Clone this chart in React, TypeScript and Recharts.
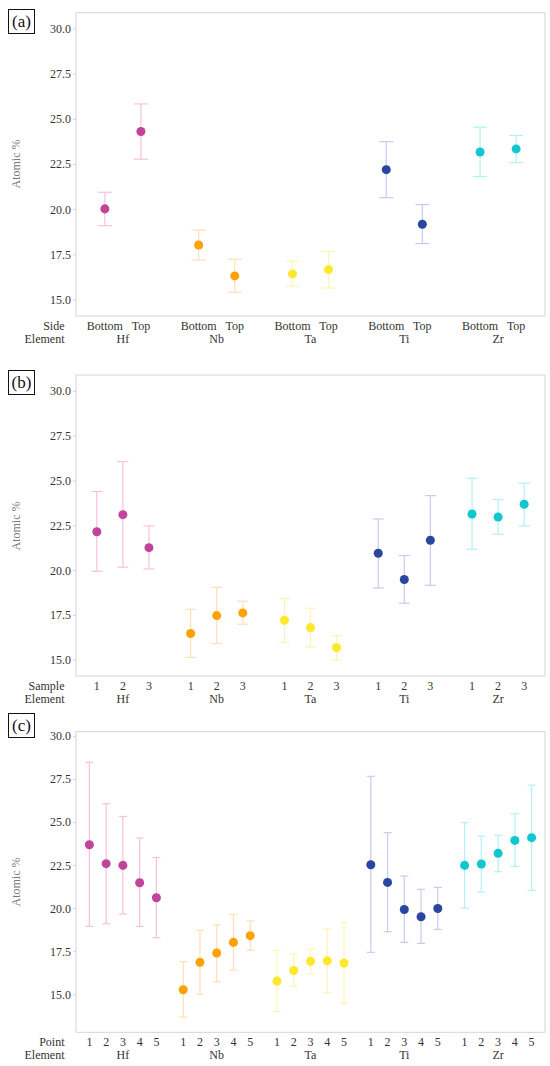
import React from 'react';
import { ScatterChart, Scatter, XAxis, YAxis, ZAxis, ErrorBar, ReferenceArea } from 'recharts';

const elements = ['Hf', 'Nb', 'Ta', 'Ti', 'Zr'];
const pointColors = ['#C1449B', '#FFA200', '#FFE82B', '#2A46A0', '#10C6CF'];
const barColors = ['#F8C0E0', '#FFE0B4', '#FFF4B4', '#C6CDEC', '#B4F0F3'];
const yTicks = [15, 17.5, 20, 22.5, 25, 27.5, 30];

// (a) by side
const sideLabels = ['Bottom', 'Top'];
const sideMean = [[20.04, 24.32], [18.04, 16.33], [16.44, 16.68], [22.21, 19.19], [23.19, 23.36]];
const sideLow = [[19.11, 22.79], [17.21, 15.42], [15.77, 15.66], [20.66, 18.12], [21.83, 22.6]];
const sideHigh = [[20.96, 25.85], [18.87, 17.25], [17.14, 17.68], [23.76, 20.28], [24.56, 24.11]];

// (b) by sample
const sampleLabels = ['1', '2', '3'];
const sampleMean = [[22.17, 23.12, 21.28], [16.49, 17.49, 17.64], [17.23, 16.82, 15.71], [20.97, 19.5, 21.69], [23.16, 22.99, 23.7]];
const sampleLow = [[19.96, 20.19, 20.09], [15.15, 15.93, 17.01], [16.0, 15.74, 15.0], [19.03, 18.18, 19.18], [21.19, 22.03, 22.49]];
const sampleHigh = [[24.41, 26.08, 22.49], [17.84, 19.07, 18.29], [18.44, 17.9, 16.38], [22.88, 20.84, 24.18], [25.15, 23.96, 24.87]];

// (c) by point
const pointLabels = ['1', '2', '3', '4', '5'];
const pointMean = [[23.71, 22.61, 22.51, 21.5, 20.63], [15.29, 16.88, 17.42, 18.04, 18.43], [15.79, 16.41, 16.94, 16.97, 16.84], [22.55, 21.52, 19.95, 19.53, 20.01], [22.51, 22.59, 23.21, 23.96, 24.12]];
const pointLow = [[18.97, 19.12, 19.68, 18.97, 18.31], [13.7, 15.04, 15.75, 16.43, 17.59], [14.03, 15.48, 16.22, 15.12, 14.5], [17.46, 18.66, 18.04, 17.98, 18.79], [20.03, 20.96, 22.14, 22.45, 21.06]];
const pointHigh = [[28.49, 26.09, 25.35, 24.1, 22.97], [16.92, 18.74, 19.06, 19.66, 19.28], [17.57, 17.36, 17.65, 18.83, 19.2], [27.68, 24.41, 21.89, 21.12, 21.23], [24.99, 24.21, 24.25, 25.51, 27.17]];

const FONT = "'Liberation Serif', 'DejaVu Serif', serif";
const GAP = 0.6;
const textStyle = { fontFamily: FONT, fontSize: 12 };

type PanelProps = {
  rowTitle: string;
  subLabels: string[];
  mean: number[][];
  low: number[][];
  high: number[][];
  top: number;
  height: number;
  marginTop: number;
  xAxisHeight: number;
  yDomain: [number, number];
  capWidth: number;
};

function Panel({ rowTitle, subLabels, mean, low, high, top, height, marginTop, xAxisHeight, yDomain, capWidth }: PanelProps) {
  const n = subLabels.length;
  const stride = n + GAP;
  const xMin = -0.8;
  const xMax = (elements.length - 1) * stride + n - 1 + 0.8;

  const series = elements.map((el, g) =>
    mean[g].map((m, i) => ({
      x: g * stride + i,
      y: m,
      err: [m - low[g][i], high[g][i] - m],
      sub: subLabels[i],
    }))
  );
  const centers = elements.map((el, g) => g * stride + (n - 1) / 2);
  const tickSet = Array.from(new Set([...series.flat().map((d) => d.x), ...centers])).sort((a, b) => a - b);

  const renderTick = (props: any) => {
    const { x, y, payload, index } = props;
    const v = payload.value;
    const pt = series.flat().find((d) => Math.abs(d.x - v) < 1e-6);
    const gi = centers.findIndex((c) => Math.abs(c - v) < 1e-6);
    return (
      <g>
        {index === 0 && (
          <>
            <text x={64.5} y={y + 14} textAnchor="end" fill="#333" style={textStyle}>{rowTitle}</text>
            <text x={64.5} y={y + 26.5} textAnchor="end" fill="#333" style={textStyle}>Element</text>
          </>
        )}
        {pt && (
          <text x={x} y={y + 14} textAnchor="middle" fill="#333" style={textStyle}>{pt.sub}</text>
        )}
        {gi >= 0 && (
          <text x={x} y={y + 26.5} textAnchor="middle" fill="#333" style={textStyle}>{elements[gi]}</text>
        )}
      </g>
    );
  };

  const renderYTick = (props: any) => {
    const { x, y, payload } = props;
    return (
      <text x={x} y={y + 4} textAnchor="end" fill="#333" style={textStyle}>{Number(payload.value).toFixed(1)}</text>
    );
  };

  const plotTop = top + marginTop;
  const plotBottom = top + height - xAxisHeight;

  return (
    <div style={{ position: 'absolute', left: 0, top, width: 550, height, fontFamily: FONT }}>
      <ScatterChart width={550} height={height} margin={{ top: marginTop, right: 5, bottom: 0, left: 0 }}>
        <XAxis
          type="number"
          dataKey="x"
          domain={[xMin, xMax]}
          allowDataOverflow
          ticks={tickSet}
          interval={0}
          tick={renderTick}
          tickLine={false}
          tickSize={0}
          tickMargin={0}
          axisLine={false}
          height={xAxisHeight}
        />
        <YAxis
          type="number"
          dataKey="y"
          domain={yDomain}
          allowDataOverflow
          ticks={yTicks}
          interval={0}
          width={76}
          tick={renderYTick}
          tickSize={3}
          tickMargin={2}
          tickLine={{ stroke: '#d4d4d4' }}
          axisLine={false}
        />
        <ZAxis range={[70, 70]} />
        <ReferenceArea x1={xMin} x2={xMax} y1={yDomain[0]} y2={yDomain[1]} fill="none" stroke="#d4d4d4" strokeWidth={1} />
        {series.map((data, g) => (
          <Scatter key={elements[g]} data={data} fill={pointColors[g]} isAnimationActive={false}>
            <ErrorBar dataKey="err" direction="y" width={capWidth} stroke={barColors[g]} strokeWidth={1.2} />
          </Scatter>
        ))}
      </ScatterChart>
      <div
        style={{
          position: 'absolute',
          left: 15.5,
          top: (plotTop + plotBottom) / 2 - top,
          transform: 'translate(-50%, -50%) rotate(-90deg)',
          whiteSpace: 'nowrap',
          fontFamily: FONT,
          fontSize: 12,
          color: '#777',
        }}
      >
        Atomic %
      </div>
    </div>
  );
}

function Tag({ label, top }: { label: string; top: number }) {
  return (
    <div
      style={{
        position: 'absolute',
        left: 8,
        top,
        width: 25,
        height: 23,
        border: '1.5px solid #111',
        fontFamily: FONT,
        fontSize: 17,
        lineHeight: '23px',
        textAlign: 'center',
        color: '#111',
        background: '#fff',
      }}
    >
      {label}
    </div>
  );
}

export default function App() {
  return (
    <div style={{ position: 'absolute', left: 0, top: 0, width: 550, height: 1066, background: '#fff', fontFamily: FONT }}>
      <Panel rowTitle="Side" subLabels={sideLabels} mean={sideMean} low={sideLow} high={sideHigh}
        top={0} height={350} marginTop={12.7} xAxisHeight={34} yDomain={[14.11, 30.9]} capWidth={7} />
      <Panel rowTitle="Sample" subLabels={sampleLabels} mean={sampleMean} low={sampleLow} high={sampleHigh}
        top={350} height={370} marginTop={25} xAxisHeight={44} yDomain={[14.12, 30.91]} capWidth={5.5} />
      <Panel rowTitle="Point" subLabels={pointLabels} mean={pointMean} low={pointLow} high={pointHigh}
        top={700} height={366} marginTop={31.7} xAxisHeight={33.7} yDomain={[12.82, 30.27]} capWidth={4} />
      <Tag label="(a)" top={9} />
      <Tag label="(b)" top={370} />
      <Tag label="(c)" top={713} />
    </div>
  );
}
